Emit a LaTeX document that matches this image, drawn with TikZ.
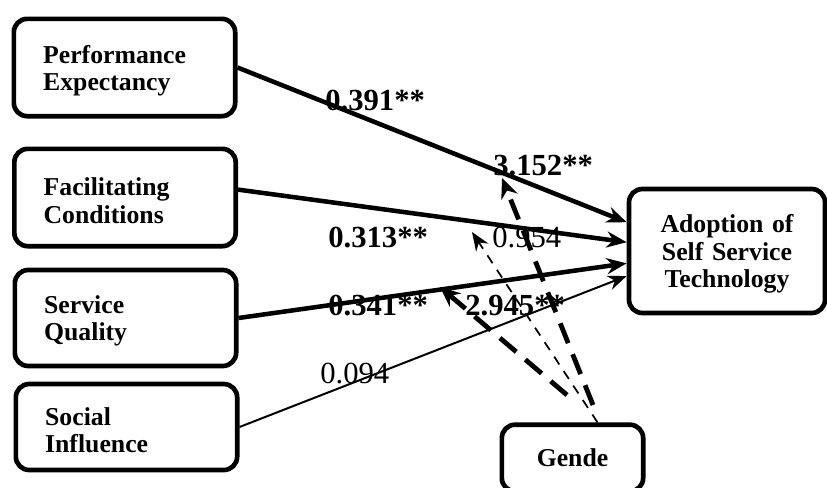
\documentclass[tikz,border=0pt]{standalone}
\usepackage{fontspec}
\setmainfont{Liberation Serif}
\usetikzlibrary{arrows.meta}
\begin{document}
\begin{tikzpicture}[x=0.75pt,y=-0.75pt,
        box/.style={draw,line width=3.5pt,rounded corners=10pt,minimum width=166pt,text width=122pt,inner xsep=22pt,text height=18pt,align=left,font=\fontsize{19.3}{20.5}\selectfont\bfseries},
        lab/.style={anchor=base west,inner sep=0pt,font=\fontsize{23}{26}\selectfont\bfseries},
        num/.style={anchor=base west,inner sep=0pt,font=\fontsize{23}{26}\selectfont},
        bold/.style={line width=3.4pt,-{Stealth[length=15pt,width=12pt]}},
        fine/.style={line width=1.5pt,-{Stealth[length=14pt,width=11pt]}},
        modbold/.style={line width=3.6pt,dash pattern=on 16pt off 9pt,-{Stealth[length=15pt,width=13pt]}},
        modfine/.style={line width=1.3pt,dash pattern=on 7pt off 6pt,-{Stealth[length=14pt,width=11pt]}}]
        \useasboundingbox (0,0) rectangle (827,487);
        % constructs
        \node[box,minimum height=73pt] (pe) at (124.5,67.5) {Performance\\Expectancy};
        \node[box,minimum height=73pt] (fc) at (125,197.5) {Facilitating\\Conditions};
        \node[box,minimum height=72pt] (sq) at (125.5,318) {Service\\Quality};
        \node[box,minimum height=64.5pt] (si) at (126.5,427) {Social\\Influence};
        \node[box,minimum width=147pt,minimum height=93pt,text width=125pt,inner xsep=11pt,align=center] (ado) at (727,251) {Adoption of\\Self Service\\Technology};
        \node[box,minimum width=106pt,minimum height=50pt,text width=90pt,inner xsep=8pt,text height=13pt,align=center] (gen) at (572.5,458) {Gende};
        % coefficients
        \node[lab] (l1) at (325,110) {0.391**};
        \node[lab] (l2) at (328,247) {0.313**};
        \node[lab] (l3) at (328,315) {0.341**};
        \node[num] (l4) at (320,383) {0.094};
        \node[lab] (l5) at (493,175) {3.152**};
        \node[num] (l6) at (492,247) {0.954};
        \node[lab] (l7) at (465,315) {2.945**};
        % direct paths
        \draw[bold] (pe.east) -- (ado.164);
        \draw[bold] (fc.4) -- (ado.175);
        \draw[bold] (sq.east) -- (ado.187);
        \draw[fine] (si.east) -- (ado.194);
        % moderation by gender
        \coordinate (s1) at (593,405);
        \coordinate (s3) at (567,395);
        \coordinate (t1) at (502,178);
        \coordinate (t2) at (472,232);
        \coordinate (t3) at (440,287);
        \draw[modbold] (s1) -- (t1);
        \draw[modfine] (gen.55) -- (t2);
        \draw[modbold] (s3) -- (t3);
    \end{tikzpicture}
\end{document}
